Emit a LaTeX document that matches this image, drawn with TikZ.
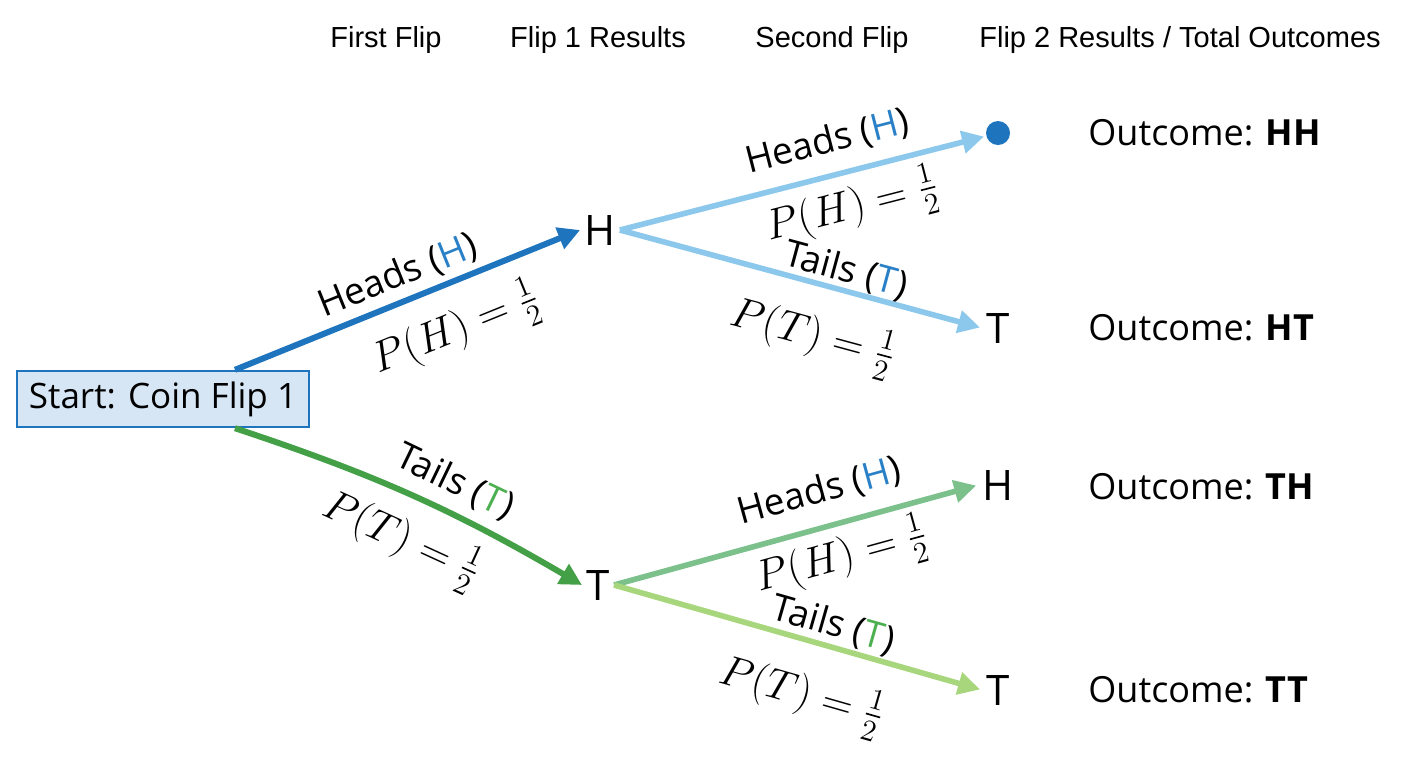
\documentclass[tikz,border=0pt]{standalone}
\usepackage{fix-cm}
\usepackage{amsmath}
\usepackage{fontspec}
\setmainfont{Open Sans}
\newfontfamily\headfont{Liberation Sans}
\usepackage{xcolor}
\usetikzlibrary{arrows.meta, positioning, calc}

\definecolor{flipblue}{HTML}{1F74BE}
\definecolor{boxfill}{HTML}{D6E6F5}
\definecolor{flipgreen}{HTML}{43A047}
\definecolor{lightblue}{HTML}{8CC8EC}
\definecolor{midgreen}{HTML}{7CC18C}
\definecolor{lightgreen}{HTML}{A8D67C}
\definecolor{hcol}{HTML}{2A80C6}
\definecolor{tcol}{HTML}{4CAF50}

\begin{document}
\begin{tikzpicture}[x=0.5pt, y=-0.5pt,
    branch/.style={line width=3pt, -{Triangle[length=11pt, width=11pt]}},
    branchtwo/.style={line width=2.8pt, -{Triangle[length=11pt, width=11pt]}, shorten >=1pt},
    lab/.style={font=\fontsize{18.5}{22}\selectfont, text=black, sloped, inner sep=1pt},
    prob/.style={font=\fontsize{21.5}{25}\selectfont, text=black, sloped, inner sep=1pt},
    res/.style={font=\fontsize{21}{25}\selectfont, inner sep=2pt},
    outcome/.style={font=\fontsize{18}{22}\selectfont, anchor=west, inner sep=0pt},
    head/.style={font=\headfont\fontsize{14.5}{17}\selectfont},
    startbox/.style={draw=flipblue, fill=boxfill, line width=1.2pt, minimum width=146pt,
        minimum height=28pt, font=\fontsize{17.5}{20}\selectfont, inner sep=2pt}]

    \useasboundingbox (0,0) rectangle (1408,768);

    % Intestazioni
    \node[head] (c1) at (386,40) {First Flip};
    \node[head] (c2) at (598,40) {Flip 1 Results};
    \node[head] (c3) at (832,40) {Second Flip};
    \node[head] (c4) at (1180,40) {Flip 2 Results / Total Outcomes};

    % Partenza
    \node[startbox] (start) at (163,399) {Start: Coin Flip 1};
    \coordinate (s-up) at ([xshift=36pt]start.north);
    \coordinate (s-down) at ([xshift=36pt]start.south);

    % Risultati primo lancio
    \node[res] (h1) at (600,230) {H};
    \node[res] (t1) at (598,585) {T};

    % Risultati secondo lancio
    \node[circle, fill=flipblue, minimum size=12pt, inner sep=0pt] (hh) at (998,133) {};
    \node[res] (ht) at (998,328) {T};
    \node[res] (th) at (998,485) {H};
    \node[res] (tt) at (998,690) {T};

    % Primo lancio
    \draw[branch, flipblue] (s-up) -- (h1.west)
        node[lab, pos=.5, above=2pt] {Heads (\textcolor{hcol}{H})}
        node[prob, pos=.59, below=8pt] {$P(H) = \frac{1}{2}$};
    \draw[branch, flipgreen] (s-down) to[bend left=6]
        node[lab, pos=.59, above=4pt] {Tails (\textcolor{tcol}{T})}
        node[prob, pos=.52, below=7pt] {$P(T) = \frac{1}{2}$} (t1.west);

    % Secondo lancio dopo H
    \draw[branchtwo, lightblue] (h1.east) -- (hh)
        node[lab, pos=.59, above=6pt] {Heads (\textcolor{hcol}{H})}
        node[prob, pos=.61, below=3pt] {$P(H) = \frac{1}{2}$};
    \draw[branchtwo, lightblue] (h1.east) -- (ht.west)
        node[lab, pos=.61, above=-1pt] {Tails (\textcolor{hcol}{T})}
        node[prob, pos=.57, below=11pt] {$P(T) = \frac{1}{2}$};

    % Secondo lancio dopo T
    \draw[branchtwo, midgreen] (t1.east) -- (th.west)
        node[lab, pos=.59, above=7pt] {Heads (\textcolor{hcol}{H})}
        node[prob, pos=.6, below=2pt] {$P(H) = \frac{1}{2}$};
    \draw[branchtwo, lightgreen] (t1.east) -- (tt.west)
        node[lab, pos=.58, above=0pt] {Tails (\textcolor{tcol}{T})}
        node[prob, pos=.55, below=12pt] {$P(T) = \frac{1}{2}$};

    % Esiti
    \node[outcome] (o1) at (1088,133) {Outcome: \textbf{HH}};
    \node[outcome] (o2) at (1088,328) {Outcome: \textbf{HT}};
    \node[outcome] (o3) at (1088,487) {Outcome: \textbf{TH}};
    \node[outcome] (o4) at (1088,690) {Outcome: \textbf{TT}};

\end{tikzpicture}
\end{document}
